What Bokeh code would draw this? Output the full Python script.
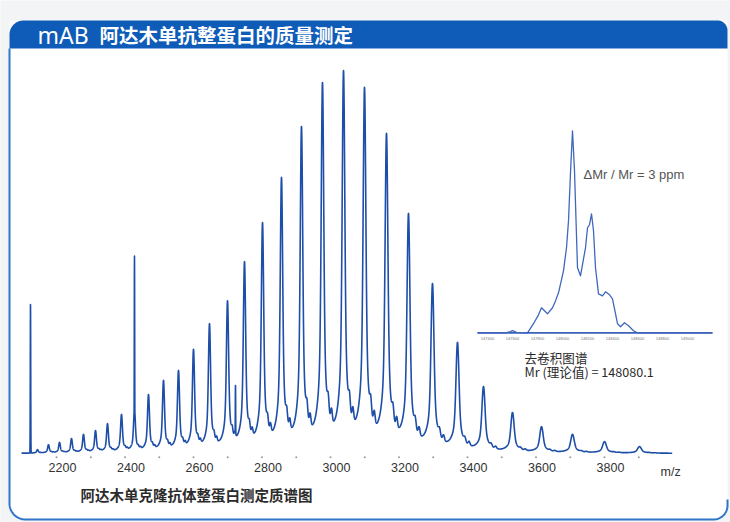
import numpy as np
from bokeh.plotting import figure
from bokeh.models import Range1d
from bokeh.core.properties import value
from bokeh.embed import file_html
from bokeh.resources import INLINE

# ---- ESI charge-state envelope of intact adalimumab (apex m/z, relative intensity) ----
peak_mz = [2144.5, 2176.6, 2208.8, 2243.8, 2278.8, 2313.9, 2348.9, 2389.8, 2427.7, 2468.6,
           2512.4, 2556.2, 2600.0, 2646.7, 2699.3, 2748.9, 2801.5, 2856.9, 2915.3, 2976.6,
           3038.0, 3099.3, 3163.5, 3227.7, 3297.8, 3370.8, 3446.7, 3531.4, 3616.1, 3706.6,
           3800.0, 3902.2]
peak_int = [1.0, 2.3, 2.9, 3.9, 5.0, 6.0, 7.8, 10.2, 11.5, 15.4,
            19.1, 21.7, 27.2, 33.9, 39.9, 50.1, 60.3, 72.1, 85.4, 96.9,
            100.0, 95.6, 83.6, 62.7, 44.4, 29.0, 17.5, 10.7, 7.0, 5.0,
            3.1, 1.8]
# narrow single-charge spikes riding on the envelope
spike_mz = [2124.1, 2427.7, 2722.6]
spike_int = [39.4, 51.7, 18.0]
scan_range = [2098.0, 3998.0]

x_ticks = [2200, 2400, 2600, 2800, 3000, 3200, 3400, 3600, 3800]
x_tick_labels = [str(t) for t in x_ticks]
x_minor = list(range(2200, 4000, 100))

# ---- deconvoluted mass spectrum (Da, relative intensity %) ----
decon_mass = [147320, 147544, 147576, 147600, 147632, 147720, 147768, 147808, 147832, 147880,
              147920, 147944, 147968, 148008, 148032, 148048, 148064, 148080, 148096, 148120,
              148144, 148184, 148200, 148216, 148232, 148248, 148264, 148288, 148320, 148344,
              148376, 148400, 148440, 148464, 148496, 148528, 148568, 148600, 149200]
decon_int = [0, 0, 0.4, 1.1, 0.2, 0, 4.5, 8.9, 12.4, 9.4,
             12.4, 15.8, 19.8, 30.7, 42.1, 55.4, 79.2, 100, 80.2, 32.2,
             28.2, 42.1, 52.0, 53.5, 58.9, 50.5, 32.2, 19.3, 18.3, 20.3,
             18.8, 16.8, 4.5, 3.0, 5.0, 3.5, 1.0, 0, 0]
decon_ticks = [147400, 147600, 147800, 148000, 148200, 148400, 148600, 148800, 149000]
decon_tick_labels = [str(t) for t in decon_ticks]


# ---- build the profile spectrum from the peak list ----
def peak_profile(x, c):
    """Unit-height profile of one charge state: sharp core, broad foot, adduct shoulders."""
    w = (c / 3000.0) ** 1.5
    d = x - c
    y = 0.68 * np.exp(-0.5 * (d / (3.4 * w)) ** 2) + 0.32 / (1.0 + (d / (11.0 * w)) ** 2)
    step = c * c / 148080.0  # distance to the neighbouring charge state
    for frac, rel in ((0.28, 0.04), (0.44, 0.035)):
        y = y + rel * np.exp(-0.5 * ((d - frac * step) / (2.4 * w)) ** 2)
    return y


centres = np.array(peak_mz)
# amplitudes chosen so that the summed trace peaks at the listed apex intensities
overlap = np.array([[peak_profile(ci, cj) for cj in centres] for ci in centres])
amps = np.linalg.solve(overlap, np.array(peak_int))

mz = np.arange(scan_range[0], scan_range[1], 0.25)
signal = np.zeros_like(mz)
for c, a in zip(centres, amps):
    signal += a * peak_profile(mz, c)
for c, h in zip(spike_mz, spike_int):
    signal = np.maximum(signal, h * np.exp(-0.5 * ((mz - c) / 0.6) ** 2))

BLUE_TRACE = "#1d4ea8"
BAR_BLUE = "#0f5cb8"
FRAME_BLUE = "#2f76c8"

p = figure(width=730, height=522,
           x_range=Range1d(2036.5, 4167.9), y_range=Range1d(-18.02, 118.28),
           output_backend="svg", toolbar_location=None,
           x_axis_location=None, y_axis_location=None,
           min_border=0, outline_line_color=None,
           background_fill_color="#f3f4f6", border_fill_color="#f3f4f6")
p.title.visible = False
p.grid.visible = False
p.extra_x_ranges = {"px": Range1d(0, 730), "mass": Range1d(143504, 149344)}
p.extra_y_ranges = {"px": Range1d(522, 0), "rel": Range1d(-93.9, 164.5)}


def arc(cx, cy, r, a0, a1, n=24):
    t = np.radians(np.linspace(a0, a1, n))
    return list(cx + r * np.cos(t)), list(cy - r * np.sin(t))


# white panel with rounded bottom corners
L, R, TOP, BOT = 9.0, 727.0, 20.0, 519.0
ax1, ay1 = arc(L + 16, BOT - 16, 16, 180, 270)
ax2, ay2 = arc(R - 14, BOT - 14, 14, 270, 360)
p.patch([L] + ax1 + ax2 + [R], [TOP] + ay1 + ay2 + [TOP],
        x_range_name="px", y_range_name="px", fill_color="white", line_color=None)
# frame line on left and bottom
p.line([L, L] + ax1 + ax2 + [R], [48, BOT - 16] + ay1 + ay2 + [BOT - 20],
       x_range_name="px", y_range_name="px", line_color=FRAME_BLUE, line_width=2)

# title bar
tx1, ty1 = arc(L + 14, TOP + 14, 14, 180, 90)
tx2, ty2 = arc(R - 10, TOP + 10, 10, 90, 0)
p.patch([L] + tx1 + tx2 + [R], [48] + ty1 + ty2 + [48],
        x_range_name="px", y_range_name="px", fill_color=BAR_BLUE, line_color=None)
p.text(x=[37], y=[34], text=["mAB"], x_range_name="px", y_range_name="px",
       text_font=value("Noto Sans"), text_font_size="23px", text_color="white",
       text_baseline="middle", text_align="left")
p.text(x=[99], y=[34], text=["阿达木单抗整蛋白的质量测定"], x_range_name="px", y_range_name="px",
       text_font=value("Noto Sans CJK SC"), text_font_size="19.5px", text_font_style="bold",
       text_color="white", text_baseline="middle", text_align="left")

# main spectrum
p.line(mz, signal, line_color=BLUE_TRACE, line_width=1.6, line_join="round")

# x axis: tick dots and labels
p.scatter(x_minor, [-1.0] * len(x_minor), size=2, color="#9a9a9a", line_color=None)
p.text(x=x_ticks, y=[-3.66] * len(x_ticks), text=x_tick_labels, x_offset=6,
       text_font=value("Liberation Sans"), text_font_size="12.5px", text_color="#333333",
       text_align="center", text_baseline="middle")
p.text(x=[660], y=[471], text=["m/z"], x_range_name="px", y_range_name="px",
       text_font=value("Liberation Sans"), text_font_size="12.5px", text_color="#333333",
       text_align="left", text_baseline="middle")
p.text(x=[80], y=[494], text=["阿达木单克隆抗体整蛋白测定质谱图"], x_range_name="px", y_range_name="px",
       text_font=value("Noto Sans CJK SC"), text_font_size="14.5px", text_font_style="bold",
       text_color="#2b2b2b", text_align="left", text_baseline="middle")

# inset: deconvoluted spectrum
p.line([decon_mass[0], decon_mass[-1]], [0, 0], x_range_name="mass", y_range_name="rel",
       line_color="#3a62b8", line_width=1.8)
p.line(decon_mass, decon_int, x_range_name="mass", y_range_name="rel",
       line_color="#3f68bd", line_width=1.3, line_join="round")
p.text(x=decon_ticks, y=[-3.0] * len(decon_ticks), text=decon_tick_labels,
       x_range_name="mass", y_range_name="rel",
       text_font=value("Liberation Sans"), text_font_size="4px", text_color="#777777",
       text_align="center", text_baseline="middle")
p.text(x=[583], y=[174], text=["ΔMr / Mr = 3 ppm"], x_range_name="px", y_range_name="px",
       text_font=value("Liberation Sans"), text_font_size="13px", text_color="#555555",
       text_align="left", text_baseline="middle")
p.text(x=[524, 524], y=[357, 371], text=["去卷积图谱", "Mr (理论值) = 148080.1"],
       x_range_name="px", y_range_name="px",
       text_font=value("Noto Sans CJK SC"), text_font_size="12.6px", text_color="#2a2a2a",
       text_align="left", text_baseline="middle")

open("out.html", "w").write(file_html(p, INLINE))
